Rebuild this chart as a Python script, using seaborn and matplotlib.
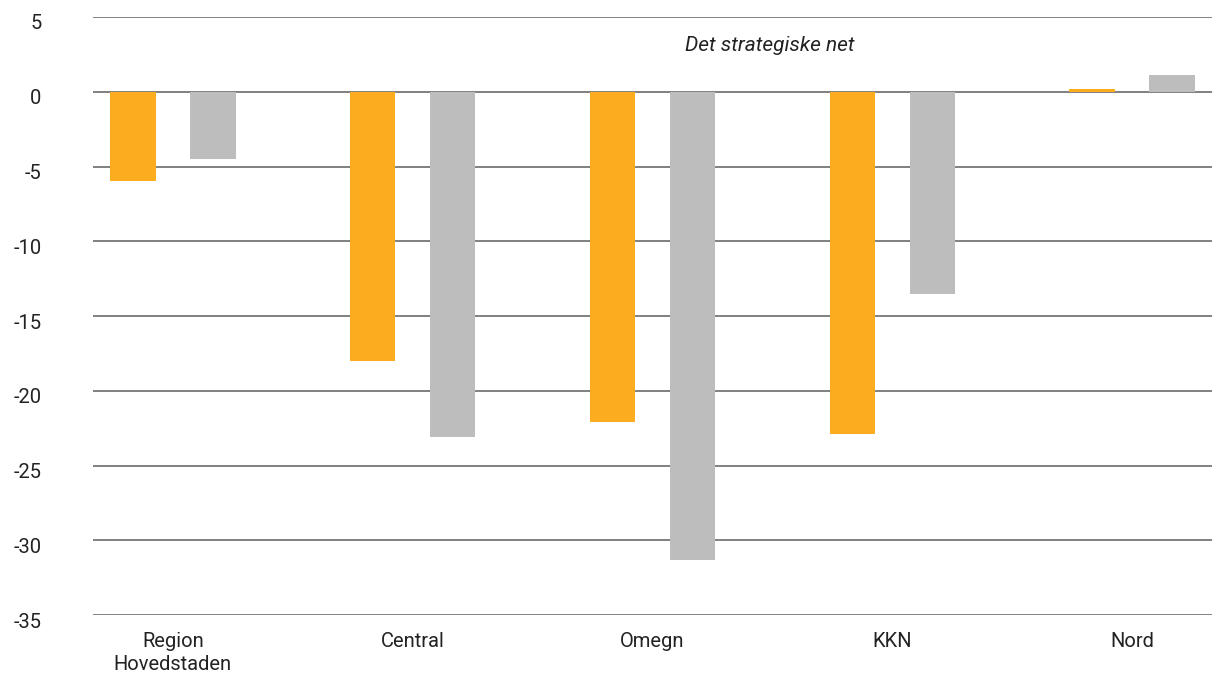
import pandas as pd
import seaborn as sns
from matplotlib import pyplot as plt
from matplotlib.transforms import ScaledTranslation

categories = ["Region\nHovedstaden", "Central", "Omegn", "KKN", "Nord"]
series_names = ["A", "B"]
orange_values = [-6.0, -18.0, -22.1, -22.9, 0.2]
gray_values = [-4.5, -23.1, -31.3, -13.5, 1.1]
y_ticks = [5, 0, -5, -10, -15, -20, -25, -30, -35]
annotation = "Det strategiske net"


def main() -> None:
    data = pd.DataFrame(
        {
            "category": categories * 2,
            "series": [series_names[0]] * len(categories) + [series_names[1]] * len(categories),
            "value": orange_values + gray_values,
        }
    )

    sns.set_theme(style="white")
    plt.rcParams["font.family"] = ["Roboto", "DejaVu Sans"]

    fig = plt.figure(figsize=(12.12, 6.79), dpi=100)
    ax = fig.add_axes([0.0767, 0.094, 0.9233, 0.881])

    for y in y_ticks:
        ax.axhline(y, color="#808080", linewidth=1.4, zorder=0)

    sns.barplot(
        data=data,
        x="category",
        y="value",
        hue="series",
        order=categories,
        hue_order=series_names,
        palette=["#FBAC1F", "#BDBDBD"],
        saturation=1,
        linewidth=0,
        width=0.667,
        gap=0.43,
        legend=False,
        ax=ax,
        zorder=2,
    )

    ax.set_xlim(-0.333, 4.333)
    ax.set_ylim(-35, 5)
    ax.set_yticks(y_ticks)
    ax.set_yticklabels([str(t) for t in y_ticks])
    ax.set_xlabel("")
    ax.set_ylabel("")
    for spine in ax.spines.values():
        spine.set_visible(False)
    ax.tick_params(axis="y", length=0, pad=37, labelsize=14.5, labelcolor="#222222")
    ax.tick_params(axis="x", length=0, pad=12, labelsize=14.5, labelcolor="#222222")
    for label in ax.get_xticklabels():
        label.set_linespacing(1.3)
    shift = ScaledTranslation(0, -5 / 100, fig.dpi_scale_trans)
    for label in ax.get_yticklabels():
        label.set_transform(label.get_transform() + shift)

    ax.text(2.49, 3.1, annotation, ha="center", va="center", fontsize=15,
            style="italic", color="#222222")

    fig.savefig("out.png", dpi=100)
    plt.close(fig)


if __name__ == "__main__":
    main()
